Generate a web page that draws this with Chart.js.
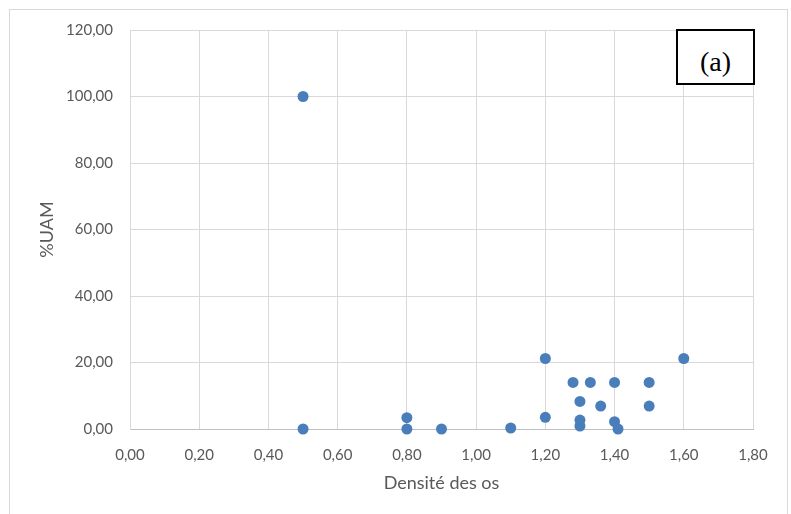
<!DOCTYPE html>
<html>
<head>
<meta charset="utf-8">
<script src="https://cdn.jsdelivr.net/npm/chart.js@4"></script>
<style>
  html, body { margin: 0; padding: 0; background: #ffffff; }
  #wrap { position: relative; width: 791px; height: 514px; overflow: hidden; background: #fff; }
  #frame { position: absolute; left: 9px; top: 9px; width: 779px; height: 520px; border: 1px solid #d9d9d9; box-sizing: border-box; }
  canvas { position: absolute; left: 0; top: 0; }
  #label { position: absolute; left: 676px; top: 29px; width: 79px; height: 56px; border: 2px solid #000; box-sizing: border-box; background: #fff; overflow: hidden;
           font-family: "Liberation Serif", "Times New Roman", serif; font-size: 28px; color: #000; text-align: center; line-height: 62px; }
</style>
</head>
<body>
<div id="wrap">
  <div id="frame"></div>
  <canvas id="c" width="791" height="514"></canvas>
  <div id="label">(a)</div>
</div>
<script>
// Data
const densite = [0.50, 0.50, 0.80, 0.80, 0.90, 1.10, 1.20, 1.20, 1.28, 1.33, 1.30, 1.30, 1.30, 1.36, 1.40, 1.40, 1.41, 1.50, 1.50, 1.60];
const uam     = [100.0, 0.0, 3.4, 0.0, 0.0, 0.3, 21.2, 3.5, 14.0, 14.0, 8.3, 2.7, 0.9, 6.9, 14.0, 2.2, 0.0, 14.0, 6.9, 21.2];
const xTitle = "Densité des os";
const yTitle = "%UAM";
const xRange = [0, 1.8, 0.2];
const yRange = [0, 120, 20];

const points = densite.map((d, i) => ({ x: d, y: uam[i] }));
const fmt = v => Number(v).toFixed(2).replace('.', ',');
const tickFont = { family: "Lato, 'Open Sans', sans-serif", size: 15 };
const titleFont = { family: "Lato, 'Open Sans', sans-serif", size: 18 };

new Chart(document.getElementById('c'), {
  type: 'scatter',
  data: {
    datasets: [{
      data: points,
      clip: false,
      pointRadius: 5.5,
      pointHoverRadius: 5.5,
      pointBackgroundColor: '#4a7ebb',
      pointBorderColor: '#4a7ebb',
      pointBorderWidth: 0
    }]
  },
  options: {
    responsive: false,
    animation: false,
    events: [],
    layout: { padding: { left: 0, top: 30, right: 38, bottom: 0 } },
    plugins: { legend: { display: false }, tooltip: { enabled: false } },
    scales: {
      x: {
        type: 'linear', min: xRange[0], max: xRange[1],
        afterFit: s => { s.height = 85; },
        ticks: { stepSize: xRange[2], callback: fmt, color: '#595959', font: tickFont, padding: 17, maxRotation: 0 },
        grid: { color: '#d9d9d9', drawTicks: false },
        border: { color: '#bfbfbf', width: 1 },
        title: { display: true, text: xTitle, color: '#595959', font: titleFont, padding: { top: 0, bottom: 20 } }
      },
      y: {
        type: 'linear', min: yRange[0], max: yRange[1],
        afterFit: s => { s.width = 130; },
        ticks: { stepSize: yRange[2], callback: fmt, color: '#595959', font: tickFont, padding: 17 },
        grid: { color: '#d9d9d9', drawTicks: false },
        border: { color: '#d9d9d9', width: 1 },
        title: { display: true, text: yTitle, color: '#595959', font: titleFont, padding: { top: 36, bottom: 0 } }
      }
    }
  }
});
</script>
</body>
</html>
